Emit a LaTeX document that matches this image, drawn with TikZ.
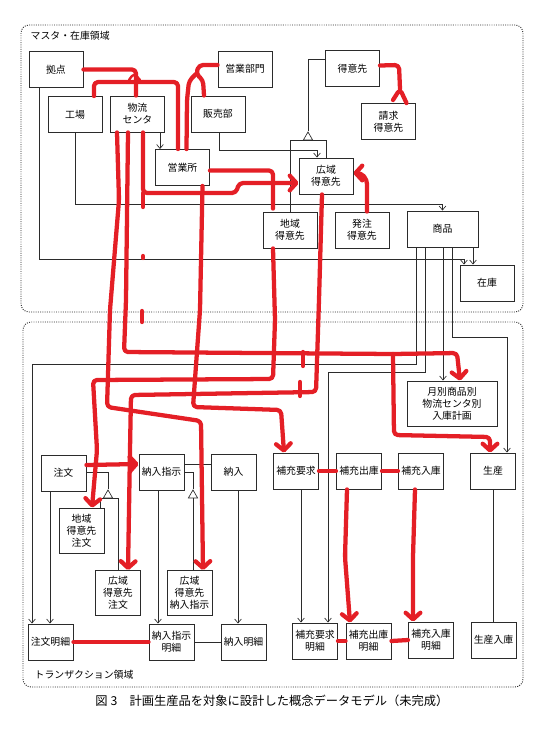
\documentclass[tikz,border=0pt]{standalone}
\usepackage{fontspec}
\setmainfont{Noto Sans CJK JP}
\usetikzlibrary{arrows.meta,shapes.geometric}
\definecolor{Ink}{HTML}{2B2B2B}
\definecolor{Pen}{HTML}{E41F26}

\begin{document}
\begin{tikzpicture}[x=0.75pt,y=-0.75pt,font=\fontsize{7.4}{9}\selectfont,
      ent/.style={draw=Ink,line width=0.7pt,align=center,inner sep=1pt,
                  minimum width=40.5pt,minimum height=27pt},
      tent/.style={ent,minimum width=33.75pt},
      area/.style={draw=Ink,densely dotted,line width=0.7pt,rounded corners=6pt},
      rel/.style={draw=Ink,line width=0.5pt},
      relto/.style={rel,-{Straight Barb[length=3pt,width=5pt]}},
      isa/.style={regular polygon,regular polygon sides=3,draw=Ink,line width=0.5pt,
                  fill=white,inner sep=0pt,minimum size=8pt},
      ans/.style={draw=Pen,line width=3.2pt,line cap=round,line join=round,
                  rounded corners=3pt},
      ansto/.style={ans,-{Straight Barb[length=5pt,width=11pt,round]}}]
    \useasboundingbox (0,0) rectangle (559,733);
    % areas
    \draw[area] (21,25) rectangle (523,312);
    \node[anchor=west] (mastlabel) at (26,36) {マスタ・在庫領域};
    \draw[area] (23,322) rectangle (523,687);
    \node[anchor=west] (tranlabel) at (30,675) {トランザクション領域};
    % master entities
    \node[ent] (kyoten) at (56,69.5) {拠点};
    \node[ent] (kojo) at (75,114.5) {工場};
    \node[ent] (butsuryu) at (137.5,114) {物流\\センタ};
    \node[ent] (eigyobumon) at (245,69) {営業部門};
    \node[ent] (hanbaibu) at (218,114) {販売部};
    \node[ent] (eigyosho) at (182.5,167.5) {営業所};
    \node[ent] (tokuisaki) at (352.5,68.5) {得意先};
    \node[ent] (seikyu) at (388.5,121.5) {請求\\得意先};
    \node[ent] (koiki) at (326,176) {広域\\得意先};
    \node[ent] (chiiki) at (290,230) {地域\\得意先};
    \node[ent] (hatchu) at (362,230) {発注\\得意先};
    \node[ent,minimum width=53.25pt] (shohin) at (442.5,229) {商品};
    \node[ent] (zaiko) at (487,283) {在庫};
    \node[isa] (isa1) at (308,137.3) {};
    % transaction entities
    \node[tent] (chumon) at (63.5,473) {注文};
    \node[tent] (nonyushiji) at (161.5,472) {納入指示};
    \node[tent] (nonyu) at (233.5,472) {納入};
    \node[tent] (hojuyokyu) at (296,471) {補充要求};
    \node[tent] (hojushukko) at (359,471) {補充出庫};
    \node[tent] (hojunyuko) at (421,471) {補充入庫};
    \node[tent] (seisan) at (493,471) {生産};
    \node[tent,minimum width=67.5pt,minimum height=33.75pt] (keikaku) at (452,403.5)
      {月別商品別\\物流センタ別\\入庫計画};
    \node[tent,minimum height=33.75pt] (chiikichumon) at (81.5,530.5) {地域\\得意先\\注文};
    \node[tent,minimum height=33.75pt] (koikichumon) at (118,593) {広域\\得意先\\注文};
    \node[tent,minimum height=33.75pt] (koikishiji) at (189.5,593) {広域\\得意先\\納入指示};
    \node[tent] (chumonmeisai) at (50.5,642) {注文明細};
    \node[tent] (shijimeisai) at (171.5,642) {納入指示\\明細};
    \node[tent] (nonyumeisai) at (243.5,642) {納入明細};
    \node[tent] (yokyumeisai) at (315,641) {補充要求\\明細};
    \node[tent] (shukkomeisai) at (368.5,641) {補充出庫\\明細};
    \node[tent] (nyukomeisai) at (431,640) {補充入庫\\明細};
    \node[tent] (seisannyuko) at (493.5,640) {生産入庫};
    \node[isa] (isa2) at (108,495.3) {};
    \node[isa] (isa3) at (193,495.3) {};
    \node[font=\fontsize{9.2}{11}\selectfont] (caption) at (272,701)
      {図 3　計画生産品を対象に設計した概念データモデル（未完成）};
    % printed relationships
    \draw[relto] ([shift={(-17,0)}]kyoten.south) -- ++(0,171) -| ([shift={(-23,0)}]zaiko.north);
    \draw[relto] (kojo.south) -- ++(0,71) -| (shohin.north);
    \draw[relto] ([shift={(22.5,0)}]butsuryu.south) -- ([shift={(-22.5,0)}]eigyosho.north);
    \draw[relto] ([shift={(1,0)}]hanbaibu.south) -- ++(0,18) -| ([shift={(-9,0)}]koiki.north);
    \draw[rel] ([shift={(0,-9.5)}]tokuisaki.west) -| (isa1.north);
    \draw[rel] (chiiki.north) |- (isa1.south) -| (koiki.north);
    \draw[relto] ([shift={(-26.5,0)}]shohin.south) -- ++(0,117) -| ([shift={(-18.5,0)}]chumonmeisai.north);
    \draw[relto] ([shift={(-17.5,0)}]shohin.south) -- ++(0,125) -| ([shift={(13,0)}]yokyumeisai.north);
    \draw[relto] ([shift={(0.5,0)}]shohin.south) -- ([shift={(-9,0)}]keikaku.north);
    \draw[relto] ([shift={(9.5,0)}]shohin.south) -- ++(0,90) -| ([shift={(14,0)}]seisan.north);
    \draw[relto] ([shift={(30.5,0)}]shohin.south) -- ([shift={(-14,0)}]zaiko.north);
    \draw[relto] ([shift={(-13.5,0)}]chumon.south) -- ([shift={(-0.5,0)}]chumonmeisai.north);
    \draw[rel] ([shift={(0,-1)}]chumon.east) -| (isa2.north);
    \draw[rel] ([shift={(18.5,0)}]chiikichumon.north) |- (isa2.south) -| (koikichumon.north);
    \draw[rel] (nonyushiji.east) -| (isa3.north);
    \draw[rel] (isa3.south) -- ([shift={(3.5,0)}]koikishiji.north);
    \draw[relto] ([shift={(-3.5,0)}]nonyushiji.south) -- ([shift={(-13.5,0)}]shijimeisai.north);
    \draw[relto] ([shift={(4.5,0)}]nonyu.south) -- ([shift={(-5.5,0)}]nonyumeisai.north);
    \draw[rel] ([shift={(0,-8)}]nonyushiji.east) -- ([shift={(0,-8)}]nonyu.west);
    \draw[rel] (shijimeisai.east) -- (nonyumeisai.west);
    \draw[relto] ([shift={(5,0)}]hojuyokyu.south) -- ([shift={(-14,0)}]yokyumeisai.north);
    \draw[rel] (seisan.south) -- ([shift={(-0.5,0)}]seisannyuko.north);
    % hand-drawn answers
    \draw[ans] (kyoten.east) -| ([shift={(-1.5,0)}]butsuryu.north);
    \draw[ans,line width=1.8pt] (129,80) -- (134,73) -- (140,80);
    \draw[ans] ([shift={(19,0)}]kojo.north) -- ++(0,-14) -| ([shift={(-4.5,0)}]eigyosho.north);
    \coordinate (bumonfork) at (196,74);
    \draw[ans] ([shift={(0,-4)}]eigyobumon.west) -- (199,65) -- (bumonfork) -- (203,80)
      -- ([shift={(-14,0)}]hanbaibu.north);
    \draw[ans] (bumonfork) -- (189,81) -- (187,100) -- ([shift={(4,0)}]eigyosho.north);
    \coordinate (seikyufork) at (400,89);
    \draw[ans] ([shift={(0,-3)}]tokuisaki.east) -- (399,65) -- (seikyufork);
    \draw[ans] (393,100) -- (seikyufork) -- ([shift={(18,0)}]seikyu.north);
    \draw[ans] ([shift={(0,3)}]eigyosho.east) -| ([shift={(-17,-3)}]chiiki.north);
    \draw[ansto] ([shift={(5.5,0)}]butsuryu.south) |- (236,193) -- (239,183)
      -- ([shift={(0,7)}]koiki.west);
    \draw[ans] (143,193) -- (143,207);
    \draw[ans] (143,256) -- (143,258);
    \draw[ans] (142,311) -- (142,322);
    \draw[ansto] ([shift={(5,0)}]hatchu.north) -- (367,180) -- (361,173)
      -- ([shift={(0,-3)}]koiki.east);
    \draw[ansto] ([shift={(-20.5,0)}]butsuryu.south) -- (119,200) -- (110,310) -- (107,407)
      -- (201,421) -- ([shift={(13.5,0)}]koikishiji.north);
    \coordinate (keikakufork) at (393,354);
    \draw[ansto] ([shift={(-9.5,0)}]butsuryu.south) -- (126,300) -- (124,352) -- (keikakufork)
      -- (457,353) -- ([shift={(8,0)}]keikaku.north);
    \draw[ansto] (keikakufork) -- (394,435) -- (490,437) -- ([shift={(-3,0)}]seisan.north);
    \draw[ansto] ([shift={(20,0)}]eigyosho.south) -- (200,310) -- (193,407) -- (281,410)
      -- ([shift={(-12,0)}]hojuyokyu.north);
    \draw[ansto] ([shift={(-17,0)}]chiiki.south) -- (275,320) -- (273,379) -- (93,380)
      -- (97,450) -- ([shift={(10.5,0)}]chiikichumon.north);
    \draw[ansto] ([shift={(-4,0)}]koiki.south) -- (319,300) -- (316,392) -- (131,395)
      -- (130,450) -- ([shift={(10,0)}]koikichumon.north);
    \draw[ans] (303,352) -- (303,366);
    \draw[ans] (300,382) -- (300,396);
    \draw[ansto] ([shift={(0,-8)}]chumon.east) -- ([shift={(0,-8)}]nonyushiji.west);
    \draw[ans] (chumonmeisai.east) -- (shijimeisai.west);
    \draw[ans] (hojuyokyu.east) -- (hojushukko.west);
    \draw[ans] (hojushukko.east) -- (hojunyuko.west);
    \draw[ansto] ([shift={(-12,0)}]hojushukko.south) -- (345,557)
      -- ([shift={(-18.5,0)}]shukkomeisai.north);
    \draw[ansto] ([shift={(-6,0)}]hojunyuko.south) -- (413,557)
      -- ([shift={(-18,0)}]nyukomeisai.north);
    \draw[ans] (yokyumeisai.east) -- (shukkomeisai.west);
    \draw[ans] (shukkomeisai.east) -- (nyukomeisai.west);
\end{tikzpicture}
\end{document}
